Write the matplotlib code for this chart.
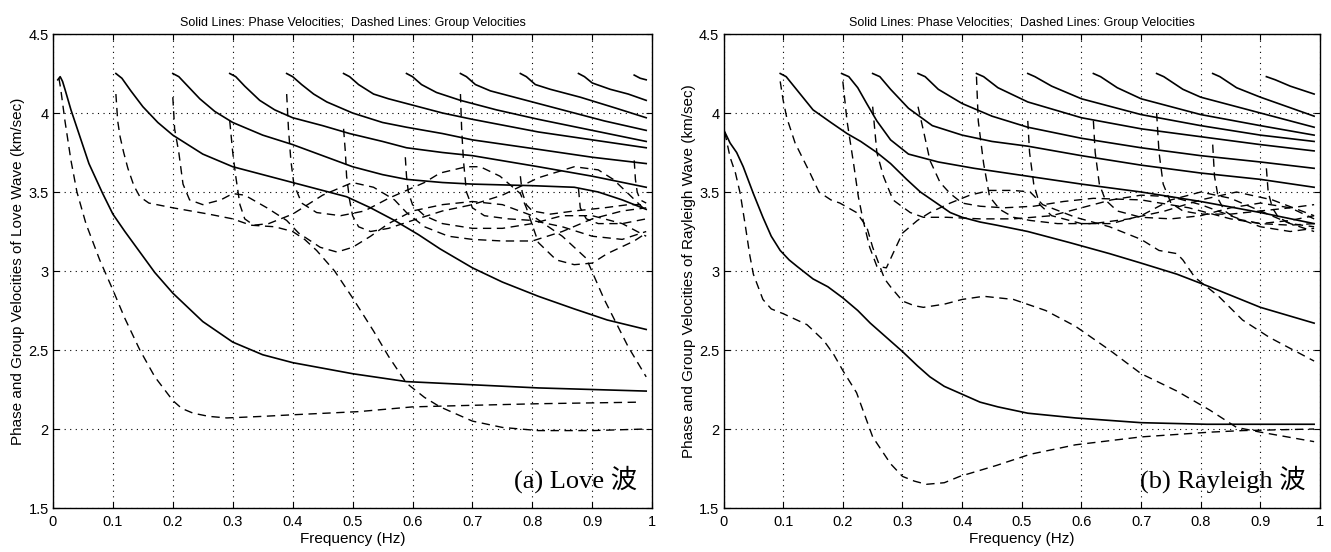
import matplotlib
matplotlib.use('Agg')
import matplotlib.pyplot as plt
import numpy as np

# ---- data: each curve is (x list, y list) ----
# Love waves, phase velocities (solid), modes 0..10
love_phase = [
    ([0.008, 0.012, 0.016, 0.02, 0.03, 0.045, 0.06, 0.083, 0.1, 0.12, 0.145, 0.17, 0.2, 0.25, 0.3, 0.35, 0.4,
      0.5, 0.59, 0.7, 0.81, 0.99],
     [4.21, 4.23, 4.2, 4.15, 4.02, 3.85, 3.68, 3.49, 3.36, 3.25, 3.12, 2.99, 2.86, 2.68, 2.55, 2.47, 2.42,
      2.35, 2.30, 2.28, 2.26, 2.24]),
    ([0.105, 0.115, 0.13, 0.15, 0.175, 0.2, 0.25, 0.3, 0.35, 0.4, 0.45, 0.49, 0.53, 0.57, 0.61, 0.646, 0.7,
      0.75, 0.81, 0.87, 0.925, 0.99],
     [4.25, 4.22, 4.14, 4.04, 3.94, 3.86, 3.74, 3.66, 3.61, 3.56, 3.51, 3.47, 3.4, 3.32, 3.23, 3.14, 3.02,
      2.93, 2.84, 2.76, 2.69, 2.63]),
    ([0.2, 0.21, 0.225, 0.245, 0.27, 0.3, 0.35, 0.4, 0.45, 0.5, 0.55, 0.59, 0.65, 0.7, 0.8, 0.87, 0.91, 0.95, 0.99],
     [4.25, 4.23, 4.17, 4.09, 4.01, 3.94, 3.86, 3.8, 3.73, 3.66, 3.61, 3.58, 3.56, 3.55, 3.54, 3.53, 3.5, 3.45, 3.39]),
    ([0.295, 0.305, 0.32, 0.345, 0.37, 0.4, 0.45, 0.495, 0.55, 0.59, 0.65, 0.7, 0.81, 0.9, 0.99],
     [4.25, 4.23, 4.17, 4.08, 4.02, 3.97, 3.92, 3.87, 3.82, 3.78, 3.75, 3.73, 3.66, 3.6, 3.53]),
    ([0.39, 0.4, 0.415, 0.435, 0.457, 0.5, 0.55, 0.59, 0.65, 0.7, 0.81, 0.9, 0.99],
     [4.25, 4.23, 4.18, 4.12, 4.07, 4.0, 3.94, 3.91, 3.87, 3.83, 3.77, 3.72, 3.68]),
    ([0.485, 0.495, 0.51, 0.535, 0.56, 0.59, 0.65, 0.7, 0.81, 0.9, 0.99],
     [4.25, 4.23, 4.18, 4.12, 4.09, 4.06, 4.0, 3.96, 3.88, 3.83, 3.78]),
    ([0.59, 0.6, 0.615, 0.64, 0.68, 0.74, 0.81, 0.9, 0.99],
     [4.25, 4.23, 4.18, 4.13, 4.08, 4.02, 3.96, 3.89, 3.82]),
    ([0.68, 0.69, 0.705, 0.73, 0.78, 0.85, 0.92, 0.99],
     [4.25, 4.23, 4.18, 4.14, 4.09, 4.02, 3.95, 3.89]),
    ([0.78, 0.79, 0.805, 0.83, 0.88, 0.94, 0.99],
     [4.25, 4.23, 4.18, 4.15, 4.1, 4.03, 3.97]),
    ([0.877, 0.887, 0.9, 0.93, 0.96, 0.99],
     [4.25, 4.23, 4.19, 4.15, 4.12, 4.08]),
    ([0.97, 0.98, 0.99],
     [4.24, 4.22, 4.21]),
]

# Love waves, group velocities (dashed)
love_group = [
    ([0.01, 0.013, 0.02, 0.03, 0.04, 0.055, 0.078, 0.1, 0.12, 0.145, 0.17, 0.2, 0.215, 0.234, 0.26, 0.29, 0.35,
      0.4, 0.51, 0.6, 0.7, 0.81, 0.98],
     [4.22, 4.15, 3.95, 3.7, 3.5, 3.3, 3.07, 2.88, 2.7, 2.5, 2.33, 2.18, 2.13, 2.1, 2.08, 2.07, 2.08,
      2.09, 2.11, 2.14, 2.15, 2.16, 2.17]),
    ([0.105, 0.108, 0.112, 0.118, 0.125, 0.135, 0.145, 0.16, 0.2, 0.26, 0.3, 0.33, 0.37, 0.4, 0.42, 0.44, 0.47,
      0.5, 0.535, 0.56, 0.59, 0.62, 0.646, 0.7, 0.75, 0.81, 0.9, 0.99],
     [4.12, 3.95, 3.85, 3.75, 3.65, 3.54, 3.47, 3.43, 3.4, 3.36, 3.33, 3.29, 3.28, 3.25, 3.2, 3.13, 3.0,
      2.83, 2.62, 2.46, 2.29, 2.2, 2.14, 2.05, 2.01, 1.99, 1.99, 2.0]),
    ([0.2, 0.203, 0.21, 0.217, 0.228, 0.25, 0.28, 0.3, 0.32, 0.357, 0.39, 0.41, 0.446, 0.474, 0.5, 0.53, 0.56,
      0.6, 0.65, 0.7, 0.75, 0.8, 0.85, 0.89, 0.92, 0.96, 0.99],
     [4.1, 3.9, 3.75, 3.55, 3.45, 3.42, 3.45, 3.49, 3.48, 3.4, 3.32, 3.24, 3.15, 3.12, 3.15, 3.22, 3.3,
      3.38, 3.42, 3.44, 3.42, 3.35, 3.22, 3.08, 2.82, 2.52, 2.33]),
    ([0.295, 0.3, 0.305, 0.312, 0.32, 0.335, 0.36, 0.4, 0.45, 0.5, 0.535, 0.57, 0.59, 0.62, 0.66, 0.7, 0.75,
      0.8, 0.85, 0.9, 0.95, 0.99],
     [3.95, 3.75, 3.6, 3.42, 3.33, 3.29, 3.3, 3.36, 3.48, 3.56, 3.53, 3.45, 3.37, 3.28, 3.22, 3.2, 3.19,
      3.19, 3.25, 3.33, 3.38, 3.4]),
    ([0.39, 0.393, 0.397, 0.402, 0.415, 0.44, 0.48, 0.52, 0.56, 0.62, 0.646, 0.69, 0.713, 0.746, 0.78, 0.79,
      0.81, 0.84, 0.87, 0.9, 0.925, 0.97, 0.99],
     [4.12, 3.9, 3.7, 3.55, 3.43, 3.37, 3.35, 3.38, 3.46, 3.56, 3.62, 3.66, 3.66, 3.6, 3.49, 3.4, 3.18,
      3.07, 3.04, 3.05, 3.11, 3.19, 3.24]),
    ([0.485, 0.488, 0.49, 0.495, 0.5, 0.51, 0.53, 0.56, 0.6, 0.65, 0.7, 0.75, 0.81, 0.87, 0.91, 0.935, 0.96, 0.99],
     [3.9, 3.75, 3.6, 3.45, 3.35, 3.28, 3.25, 3.27, 3.32, 3.38, 3.42, 3.48, 3.59, 3.66, 3.64, 3.58, 3.49, 3.38]),
    ([0.588, 0.59, 0.593, 0.6, 0.62, 0.65, 0.7, 0.75, 0.8, 0.85, 0.9, 0.95, 0.99],
     [3.72, 3.6, 3.5, 3.42, 3.35, 3.3, 3.27, 3.27, 3.3, 3.35, 3.35, 3.3, 3.22]),
    ([0.68, 0.682, 0.685, 0.69, 0.7, 0.72, 0.76, 0.8, 0.85, 0.9, 0.95, 0.99],
     [4.12, 3.9, 3.7, 3.5, 3.4, 3.35, 3.33, 3.32, 3.28, 3.22, 3.2, 3.25]),
    ([0.78, 0.783, 0.79, 0.8, 0.83, 0.87, 0.92, 0.96, 0.99],
     [3.6, 3.5, 3.42, 3.38, 3.36, 3.38, 3.4, 3.42, 3.42]),
    ([0.877, 0.88, 0.89, 0.91, 0.95, 0.99],
     [3.52, 3.4, 3.33, 3.3, 3.3, 3.33]),
    ([0.97, 0.972, 0.975, 0.98, 0.99],
     [3.7, 3.58, 3.5, 3.45, 3.43]),
]

# Rayleigh waves, phase velocities (solid)
rayl_phase = [
    ([0.002, 0.011, 0.022, 0.033, 0.05, 0.066, 0.08, 0.095, 0.11, 0.123, 0.15, 0.175, 0.2, 0.225, 0.246, 0.27,
      0.3, 0.325, 0.346, 0.37, 0.4, 0.43, 0.46, 0.51, 0.59, 0.7, 0.81, 0.99],
     [3.88, 3.81, 3.75, 3.66, 3.49, 3.34, 3.22, 3.13, 3.07, 3.03, 2.95, 2.9, 2.83, 2.75, 2.67, 2.59,
      2.49, 2.4, 2.33, 2.27, 2.22, 2.17, 2.14, 2.1, 2.07, 2.04, 2.03, 2.03]),
    ([0.095, 0.105, 0.12, 0.15, 0.18, 0.207, 0.23, 0.257, 0.28, 0.307, 0.33, 0.357, 0.38, 0.4, 0.43, 0.458, 0.51,
      0.58, 0.647, 0.7, 0.76, 0.815, 0.9, 0.99],
     [4.25, 4.23, 4.16, 4.02, 3.94, 3.87, 3.82, 3.75, 3.68, 3.58, 3.5, 3.43, 3.37, 3.34, 3.31, 3.29, 3.25,
      3.18, 3.11, 3.05, 2.98, 2.9, 2.77, 2.67]),
    ([0.198, 0.21, 0.225, 0.24, 0.257, 0.28, 0.31, 0.36, 0.42, 0.51, 0.6, 0.7, 0.8, 0.9, 0.99],
     [4.25, 4.23, 4.16, 4.06, 3.95, 3.83, 3.74, 3.69, 3.65, 3.6, 3.55, 3.5, 3.44, 3.37, 3.3]),
    ([0.25, 0.262, 0.28, 0.31, 0.35, 0.4, 0.45, 0.51, 0.6, 0.7, 0.8, 0.9, 0.99],
     [4.25, 4.23, 4.15, 4.03, 3.92, 3.86, 3.82, 3.79, 3.73, 3.67, 3.62, 3.58, 3.53]),
    ([0.326, 0.338, 0.36, 0.4, 0.45, 0.51, 0.6, 0.7, 0.8, 0.9, 0.99],
     [4.25, 4.23, 4.15, 4.06, 3.98, 3.91, 3.84, 3.78, 3.73, 3.69, 3.65]),
    ([0.424, 0.436, 0.46, 0.51, 0.6, 0.7, 0.8, 0.9, 0.99],
     [4.25, 4.23, 4.16, 4.07, 3.97, 3.9, 3.85, 3.8, 3.76]),
    ([0.51, 0.522, 0.55, 0.6, 0.7, 0.8, 0.9, 0.99],
     [4.25, 4.23, 4.17, 4.09, 3.99, 3.92, 3.86, 3.82]),
    ([0.62, 0.632, 0.66, 0.7, 0.8, 0.9, 0.99],
     [4.25, 4.23, 4.16, 4.09, 3.99, 3.92, 3.86]),
    ([0.726, 0.738, 0.77, 0.8, 0.9, 0.99],
     [4.25, 4.23, 4.15, 4.1, 4.0, 3.91]),
    ([0.82, 0.832, 0.86, 0.9, 0.99],
     [4.25, 4.23, 4.16, 4.1, 3.98]),
    ([0.91, 0.925, 0.95, 0.99],
     [4.23, 4.21, 4.17, 4.12]),
]

# Rayleigh waves, group velocities (dashed)
rayl_group = [
    ([0.002, 0.011, 0.02, 0.028, 0.036, 0.044, 0.05, 0.066, 0.08, 0.1, 0.14, 0.168, 0.185, 0.2, 0.223, 0.25,
      0.28, 0.3, 0.32, 0.34, 0.37, 0.396, 0.458, 0.514, 0.59, 0.7, 0.815, 0.87, 0.99],
     [3.88, 3.72, 3.62, 3.49, 3.3, 3.1, 2.98, 2.82, 2.76, 2.73, 2.66, 2.56, 2.47, 2.37, 2.23, 1.95,
      1.78, 1.70, 1.67, 1.65, 1.66, 1.70, 1.77, 1.84, 1.9, 1.95, 1.98, 1.99, 2.0]),
    ([0.095, 0.1, 0.106, 0.12, 0.145, 0.16, 0.18, 0.195, 0.223, 0.24, 0.25, 0.26, 0.27, 0.28, 0.3, 0.32, 0.335,
      0.37, 0.4, 0.436, 0.486, 0.54, 0.59, 0.647, 0.7, 0.76, 0.815, 0.86, 0.9, 0.99],
     [4.2, 4.08, 3.97, 3.81, 3.62, 3.5, 3.45, 3.43, 3.37, 3.28, 3.15, 3.05, 2.95, 2.9, 2.81, 2.78, 2.77,
      2.79, 2.82, 2.84, 2.82, 2.75, 2.65, 2.5, 2.35, 2.24, 2.12, 2.01, 1.98, 1.92]),
    ([0.2, 0.207, 0.218, 0.226, 0.234, 0.245, 0.257, 0.273, 0.284, 0.3, 0.325, 0.346, 0.38, 0.413, 0.446,
      0.486, 0.514, 0.535, 0.59, 0.647, 0.7, 0.73, 0.76, 0.77, 0.79, 0.83, 0.87, 0.915, 0.99],
     [4.2, 3.95, 3.68, 3.47, 3.32, 3.15, 3.03, 3.02, 3.11, 3.24, 3.32, 3.37, 3.43, 3.48, 3.51,
      3.51, 3.5, 3.42, 3.34, 3.28, 3.2, 3.13, 3.11, 3.07, 2.96, 2.84, 2.69, 2.58, 2.43]),
    ([0.25, 0.257, 0.268, 0.284, 0.313, 0.335, 0.374, 0.43, 0.486, 0.55, 0.6, 0.65, 0.7, 0.75, 0.8, 0.85, 0.9, 0.95, 0.99],
     [4.04, 3.75, 3.6, 3.45, 3.37, 3.34, 3.34, 3.33, 3.33, 3.35, 3.4, 3.45, 3.48, 3.47, 3.42, 3.35, 3.28, 3.25, 3.27]),
    ([0.326, 0.335, 0.346, 0.363, 0.38, 0.4, 0.43, 0.47, 0.52, 0.57, 0.62, 0.7, 0.78, 0.85, 0.9, 0.95, 0.99],
     [4.04, 3.89, 3.7, 3.56, 3.49, 3.43, 3.41, 3.4, 3.41, 3.44, 3.46, 3.45, 3.4, 3.33, 3.3, 3.32, 3.35]),
    ([0.424, 0.427, 0.436, 0.446, 0.463, 0.486, 0.514, 0.56, 0.62, 0.68, 0.74, 0.8, 0.86, 0.92, 0.99],
     [4.23, 3.95, 3.68, 3.47, 3.39, 3.34, 3.32, 3.3, 3.3, 3.33, 3.38, 3.45, 3.5, 3.45, 3.35]),
    ([0.51, 0.513, 0.52, 0.53, 0.55, 0.6, 0.65, 0.7, 0.75, 0.8, 0.85, 0.9, 0.95, 0.99],
     [3.95, 3.75, 3.55, 3.42, 3.35, 3.3, 3.3, 3.35, 3.45, 3.5, 3.46, 3.38, 3.3, 3.25]),
    ([0.62, 0.623, 0.63, 0.64, 0.66, 0.7, 0.75, 0.8, 0.85, 0.9, 0.95, 0.99],
     [3.95, 3.75, 3.55, 3.45, 3.38, 3.34, 3.33, 3.35, 3.4, 3.43, 3.4, 3.33]),
    ([0.726, 0.73, 0.737, 0.75, 0.77, 0.8, 0.85, 0.9, 0.95, 0.99],
     [4.0, 3.75, 3.55, 3.43, 3.38, 3.36, 3.36, 3.38, 3.4, 3.42]),
    ([0.82, 0.823, 0.83, 0.84, 0.86, 0.9, 0.95, 0.99],
     [3.8, 3.6, 3.45, 3.38, 3.33, 3.3, 3.29, 3.3]),
    ([0.91, 0.913, 0.92, 0.93, 0.95, 0.99],
     [3.65, 3.5, 3.4, 3.34, 3.3, 3.28]),
]

x_ticks = [0, 0.1, 0.2, 0.3, 0.4, 0.5, 0.6, 0.7, 0.8, 0.9, 1.0]
x_tick_labels = ['0', '0.1', '0.2', '0.3', '0.4', '0.5', '0.6', '0.7', '0.8', '0.9', '1']
y_ticks = [1.5, 2.0, 2.5, 3.0, 3.5, 4.0, 4.5]
y_tick_labels = ['1.5', '2', '2.5', '3', '3.5', '4', '4.5']

title_text = 'Solid Lines: Phase Velocities;  Dashed Lines: Group Velocities'
panels = [
    (love_phase, love_group, 'Phase and Group Velocities of Love Wave (km/sec)', '(a) Love 波'),
    (rayl_phase, rayl_group, 'Phase and Group Velocities of Rayleigh Wave (km/sec)', '(b) Rayleigh 波'),
]

plt.rcParams['font.family'] = ['Liberation Sans', 'DejaVu Sans']

fig = plt.figure(figsize=(13.31, 5.52), dpi=100)
positions = [[0.0398, 0.0797, 0.4502, 0.8587], [0.5436, 0.0797, 0.4482, 0.8587]]

for pos, (phase, group, ylab, tag) in zip(positions, panels):
    ax = fig.add_axes(pos)
    for xs, ys in phase:
        ax.plot(xs, ys, color='black', lw=1.2, solid_joinstyle='round')
    for xs, ys in group:
        ax.plot(xs, ys, color='black', lw=1.0, ls=(0, (6, 4)))
    ax.set_xlim(0, 1)
    ax.set_ylim(1.5, 4.5)
    ax.set_xticks(x_ticks)
    ax.set_xticklabels(x_tick_labels)
    ax.set_yticks(y_ticks)
    ax.set_yticklabels(y_tick_labels)
    ax.tick_params(direction='in', top=True, right=True, labelsize=10.5, length=4)
    ax.tick_params(axis='x', pad=5)
    ax.tick_params(axis='y', pad=3)
    ax.grid(True, ls=(0, (1, 4)), color='black', lw=0.8)
    for s in ax.spines.values():
        s.set_linewidth(1.0)
    ax.set_xlabel('Frequency (Hz)', fontsize=11, labelpad=2)
    ax.set_ylabel(ylab, fontsize=11)
    ax.yaxis.set_label_coords(-0.046, 0.5)
    ax.set_title(title_text, fontsize=9, pad=6)
    ax.text(0.975, 1.68, tag, ha='right', va='center', fontsize=19,
            family=['Liberation Serif', 'Noto Sans CJK SC'])

fig.savefig('out.png', dpi=100)
